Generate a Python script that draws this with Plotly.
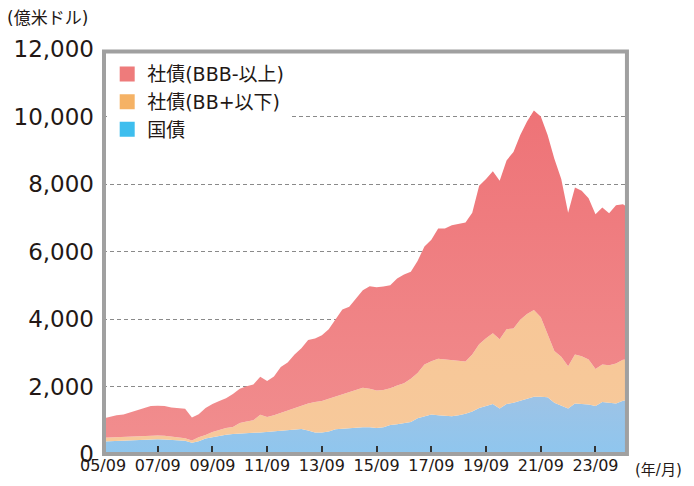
import pandas as pd
import plotly.graph_objects as go

# Quarterly dates (2005/09 .. 2024/09) plus last month shown
dates = list(pd.date_range("2005-09-01", "2024-09-01", freq="3MS").strftime("%Y-%m-%d")) + ["2024-11-01"]

# 国債 (sovereign), 億米ドル
govt = [370, 380, 390, 400, 420, 430, 430, 440, 440, 430,
        420, 400, 390, 330, 380, 460, 500, 540, 570, 590,
        610, 610, 630, 640, 660, 680, 700, 710, 740, 740,
        700, 640, 640, 670, 730, 750, 760, 775, 790, 790,
        770, 790, 860, 880, 920, 950, 1060, 1120, 1170, 1150,
        1130, 1120, 1150, 1190, 1260, 1360, 1420, 1480, 1350, 1480,
        1520, 1580, 1640, 1700, 1700, 1680, 1520, 1430, 1350, 1500,
        1480, 1470, 1420, 1540, 1520, 1500, 1580, 1600]

# 社債(BB+以下) (high yield corporate)
corp_hy = [110, 110, 110, 100, 90, 90, 100, 110, 110, 110,
           100, 90, 80, 70, 120, 100, 150, 170, 200, 210,
           310, 350, 370, 520, 440, 470, 520, 590, 620, 680,
           800, 900, 930, 970, 970, 1010, 1070, 1115, 1170, 1140,
           1110, 1110, 1090, 1150, 1180, 1280, 1340, 1530, 1580, 1670,
           1670, 1670, 1610, 1550, 1690, 1890, 2010, 2100, 2050, 2220,
           2200, 2400, 2510, 2570, 2350, 1870, 1530, 1450, 1250, 1450,
           1420, 1330, 1100, 1110, 1110, 1180, 1210, 1200]

# 社債(BBB-以上) (investment grade corporate)
corp_ig = [570, 610, 650, 670, 720, 780, 810, 870, 880, 880,
           860, 870, 870, 680, 680, 800, 830, 860, 880, 980,
           1010, 1050, 1060, 1130, 1060, 1150, 1360, 1410, 1590, 1710,
           1880, 1880, 1950, 2060, 2300, 2520, 2530, 2710, 2890, 3040,
           3060, 3060, 3050, 3170, 3220, 3170, 3320, 3500, 3600, 3860,
           3880, 3990, 4070, 4120, 4200, 4700, 4720, 4800, 4700, 5000,
           5230, 5470, 5700, 5910, 5950, 5900, 5700, 5270, 4550, 4950,
           4900, 4780, 4580, 4650, 4500, 4690, 4610, 4520]

series_names = ["国債", "社債(BB+以下)", "社債(BBB-以上)"]
fill_colors = ["#9AC4E8", "#F7C89A", "#EF8083"]
grad_colors = [("#8FC6EE", "#9DC3E6"), ("#F7C99B", "#F7C797"), ("#F18D8E", "#EE7377")]
legend_colors = ["#3EBEEE", "#F5B265", "#EE7B7B"]

tick_dates = ["2005-09-01", "2007-09-01", "2009-09-01", "2011-09-01", "2013-09-01",
              "2015-09-01", "2017-09-01", "2019-09-01", "2021-09-01", "2023-09-01"]
tick_text = ["05/09", "07/09", "09/09", "11/09", "13/09", "15/09", "17/09", "19/09", "21/09", "23/09"]
y_ticks = [0, 2000, 4000, 6000, 8000, 10000, 12000]
y_text = ["0", "2,000", "4,000", "6,000", "8,000", "10,000", "12,000"]

FONT = "DejaVu Sans, Noto Sans CJK JP"
TXT = "#231815"

fig = go.Figure()
for name, vals, fc, (c0, c1) in zip(series_names, [govt, corp_hy, corp_ig], fill_colors, grad_colors):
    fig.add_trace(go.Scatter(x=dates, y=vals, name=name, stackgroup="one",
                             mode="lines", line=dict(width=0, color=fc),
                             fillcolor=fc,
                             fillgradient=dict(type="vertical",
                                               colorscale=[[0, c0], [1, c1]]),
                             showlegend=False, hoverinfo="skip"))
# legend entries as square markers
for name, lc in zip(series_names, legend_colors):
    fig.add_trace(go.Scatter(x=[None], y=[None], name=name, mode="markers",
                             marker=dict(symbol="square", size=15, color=lc)))

fig.update_layout(
    width=694, height=486,
    margin=dict(l=103, r=66, t=49, b=32, autoexpand=False),
    paper_bgcolor="white", plot_bgcolor="white",
    font=dict(family=FONT, color=TXT),
    showlegend=True,
    legend=dict(x=0.008, y=0.985, xanchor="left", yanchor="top",
                bgcolor="white", borderwidth=0, traceorder="reversed",
                font=dict(size=19, color=TXT, family=FONT),
                itemwidth=30, tracegroupgap=0),
    xaxis=dict(type="date", range=["2005-09-01", "2024-11-08"],
               tickvals=tick_dates, ticktext=tick_text, automargin=False,
               ticks="inside", ticklen=8, tickwidth=2, tickcolor="#333",
               showgrid=False, zeroline=False, showline=False,
               tickfont=dict(size=16, color=TXT, family=FONT)),
    yaxis=dict(range=[0, 12000], tickvals=y_ticks, ticktext=y_text,
               automargin=False,
               ticks="", showgrid=True, gridcolor="#8a8a8a", gridwidth=1,
               griddash="4px,3px", zeroline=False, showline=False,
               ticklabelstandoff=8,
               tickfont=dict(size=23, color=TXT, family=FONT)),
    shapes=[dict(type="rect", xref="paper", yref="paper",
                 x0=0.0019, x1=0.998, y0=0, y1=0.9938,
                 line=dict(color="#A0A0A0", width=4), layer="above")],
    annotations=[
        dict(text="(億米ドル)", xref="paper", yref="paper", x=-0.1867, y=1.0765,
             xanchor="left", yanchor="middle", showarrow=False,
             font=dict(size=17, color=TXT, family=FONT)),
        dict(text="(年/月)", xref="paper", yref="paper", x=1.0095, y=-0.0395,
             xanchor="left", yanchor="middle", showarrow=False,
             font=dict(size=15, color=TXT, family=FONT)),
    ],
)

fig.write_html("out.html", config={"displayModeBar": False},
               post_script="document.body.style.margin='0';document.body.style.padding='0';")
